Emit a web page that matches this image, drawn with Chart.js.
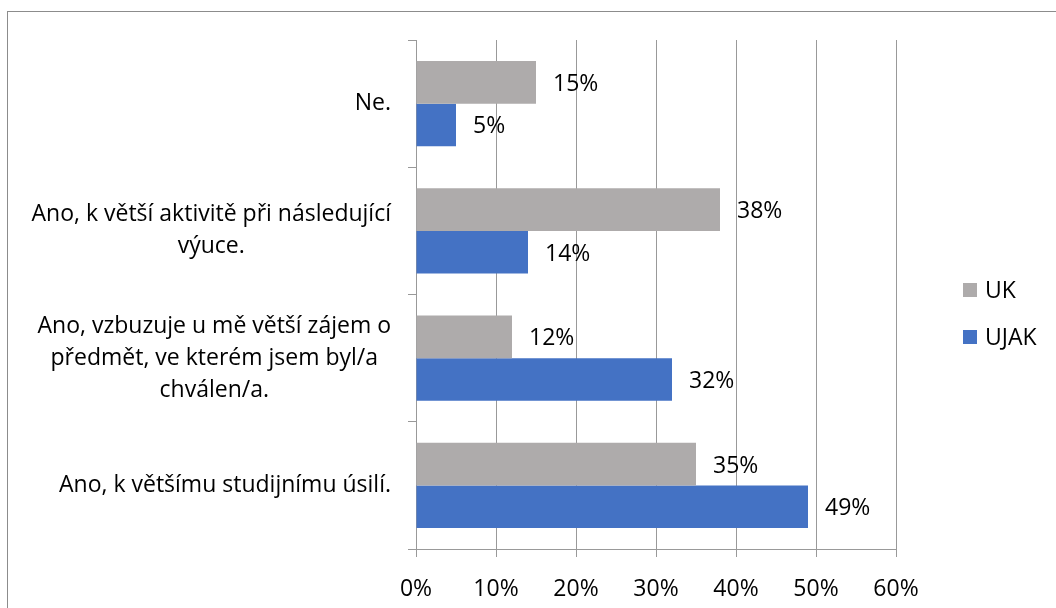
<!DOCTYPE html>
<html>
<head>
<meta charset="utf-8">
<script src="https://cdn.jsdelivr.net/npm/chart.js@4/dist/chart.umd.min.js"></script>
<style>
    html, body { margin: 0; padding: 0; background: #fff; overflow: hidden; }
    #wrap { position: relative; width: 1056px; height: 608px; }
    #frame {
        position: absolute; left: 7px; top: 11px; width: 1100px; height: 700px;
        border: 1px solid #8c8c8c; box-sizing: border-box;
    }
    canvas { position: absolute; left: 0; top: 0; }
</style>
</head>
<body>
<div id="wrap">
    <div id="frame"></div>
    <canvas id="chart" width="1056" height="608"></canvas>
</div>
<script>
// Kategorie (shora dolů) a hodnoty v procentech
const categories = [
    ['Ne.'],
    ['Ano, k větší aktivitě při následující', 'výuce.'],
    ['Ano, vzbuzuje u mě větší zájem o', 'předmět, ve kterém jsem byl/a', 'chválen/a.'],
    ['Ano, k většímu studijnímu úsilí.']
];
const seriesNames = ['UK', 'UJAK'];
const ukValues = [15, 38, 12, 35];
const ujakValues = [5, 14, 32, 49];
const xTicks = [0, 10, 20, 30, 40, 50, 60];

const FONT = '"Open Sans", "Noto Sans", sans-serif';
const FONT_SIZE = 23;
const colors = { UK: '#AEABAB', UJAK: '#4472C4' };

// Popisky kategorií: blok zarovnaný vpravo, řádky vystředěné v bloku
const categoryLabels = {
    id: 'categoryLabels',
    afterDraw(chart) {
        const ctx = chart.ctx;
        const yScale = chart.scales.y;
        const rightEdge = chart.chartArea.left - 25;
        const lineHeight = 32;
        ctx.save();
        ctx.font = `${FONT_SIZE}px ${FONT}`;
        ctx.fillStyle = '#000';
        ctx.textAlign = 'center';
        ctx.textBaseline = 'middle';
        categories.forEach((lines, i) => {
            const yc = yScale.getPixelForValue(i);
            const blockW = Math.max(...lines.map(l => ctx.measureText(l).width));
            const xc = rightEdge - blockW / 2;
            lines.forEach((line, j) => {
                const y = yc + (j - (lines.length - 1) / 2) * lineHeight;
                ctx.fillText(line, xc, y);
            });
        });
        ctx.restore();
    }
};

// Hodnoty za koncem sloupců
const valueLabels = {
    id: 'valueLabels',
    afterDatasetsDraw(chart) {
        const ctx = chart.ctx;
        ctx.save();
        ctx.font = `${FONT_SIZE}px ${FONT}`;
        ctx.fillStyle = '#000';
        ctx.textAlign = 'left';
        ctx.textBaseline = 'middle';
        chart.data.datasets.forEach((ds, di) => {
            const meta = chart.getDatasetMeta(di);
            meta.data.forEach((bar, i) => {
                ctx.fillText(ds.data[i] + '%', bar.x + 17, bar.y + 2);
            });
        });
        ctx.restore();
    }
};

// Legenda vpravo
const sideLegend = {
    id: 'sideLegend',
    afterDraw(chart) {
        const ctx = chart.ctx;
        const x = chart.chartArea.right + 67;
        const startY = 290;
        const gap = 47;
        ctx.save();
        ctx.font = `${FONT_SIZE}px ${FONT}`;
        ctx.textAlign = 'left';
        ctx.textBaseline = 'middle';
        chart.data.datasets.forEach((ds, i) => {
            const y = startY + i * gap;
            ctx.fillStyle = ds.backgroundColor;
            ctx.fillRect(x, y - 7, 14, 14);
            ctx.fillStyle = '#000';
            ctx.fillText(ds.label, x + 22, y + 1);
        });
        ctx.restore();
    }
};

new Chart(document.getElementById('chart'), {
    type: 'bar',
    data: {
        labels: categories,
        datasets: [
            { label: seriesNames[0], data: ukValues, backgroundColor: colors.UK },
            { label: seriesNames[1], data: ujakValues, backgroundColor: colors.UJAK }
        ]
    },
    options: {
        indexAxis: 'y',
        responsive: false,
        animation: false,
        layout: { padding: { left: 408, right: 160, top: 40, bottom: 0 } },
        datasets: {
            bar: { categoryPercentage: 0.67, barPercentage: 1.0 }
        },
        plugins: {
            legend: { display: false },
            tooltip: { enabled: false }
        },
        scales: {
            x: {
                min: 0,
                max: 60,
                afterFit(scale) { scale.height = 59; },
                afterBuildTicks(scale) {
                    scale.ticks = xTicks.map(v => ({ value: v }));
                },
                ticks: {
                    padding: 19,
                    color: '#000',
                    font: { family: FONT, size: FONT_SIZE },
                    callback: v => v + '%'
                },
                grid: { color: '#999', tickLength: 8, lineWidth: 1 },
                border: { color: '#999' }
            },
            y: {
                afterFit(scale) { scale.width = 8; },
                ticks: { display: false },
                grid: { offset: true, drawOnChartArea: false, color: '#999', tickLength: 8 },
                border: { color: '#999' }
            }
        }
    },
    plugins: [categoryLabels, valueLabels, sideLegend]
});
</script>
</body>
</html>
